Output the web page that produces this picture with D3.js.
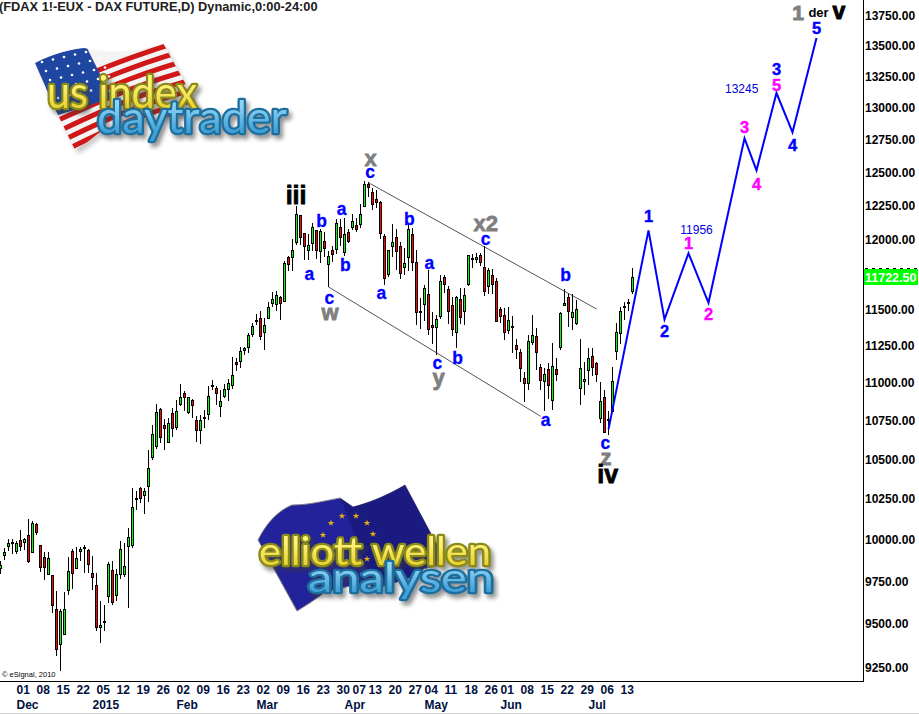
<!DOCTYPE html>
<meta charset="utf-8">
<style>
html, body { margin: 0; padding: 0; background: #fff; overflow: hidden; }
svg { display: block; font-family: "Liberation Sans", Arial, sans-serif; }
.axis path, .axis line { display: none; }
.axis text { font-size: 12px; font-weight: bold; fill: #000; font-family: "Liberation Sans", Arial, sans-serif; }
.axis--x text { fill: #001040; }
.wick { stroke: #000; stroke-width: 1; shape-rendering: crispEdges; }
.body { stroke: #000; stroke-width: 1; shape-rendering: crispEdges; }
.lab { text-anchor: middle; dominant-baseline: central; font-weight: bold; }
.word { filter: drop-shadow(3px 4px 2px rgba(60,60,60,.55)); paint-order: stroke; stroke-linejoin: round; font-family: Lato, "Noto Sans", sans-serif; }
</style>
<svg width="919" height="714"></svg>
<script src="https://d3js.org/d3.v7.min.js"></script>
<script>

var opens = [9825,9903,9957,9972,9927,9990,9982,10026,9923,10092,
  9965,9893,9788,9784,9583,9378,9439,9692,9929,9825,
  9929,9947,9931,9796,9724,9478,9507,9656,9815,9662,
  9788,9788,9959,9964,10243,10313,10273,10326,10508,10583,
  10821,10718,10607,10795,10701,10857,10926,10799,10881,10750,
  10684,10761,10789,10972,10961,10838,10904,10954,10981,11138,
  11145,11218,11238,11329,11415,11436,11343,11438,11540,11534,
  11582,11554,11867,11870,11979,12177,12046,11921,11969,12068,
  11913,11988,11819,11923,11930,12090,11906,12053,12087,12104,
  12111,12240,12411,12350,12296,12273,12024,11747,11952,12017,
  11945,11797,11872,12039,11836,11479,11538,11604,11390,11377,
  11452,11727,11640,11527,11343,11568,11486,11674,11858,11853,
  11887,11800,11660,11742,11698,11499,11459,11354,11374,11254,
  11206,11029,10993,11272,11315,11104,11008,11090,10883,11090,
  11234,11527,11587,11445,11404,10961,11008,11084,11179,11131,
  10763,10899,10753,10806,11211,11336,11511,11540,11623];

var highs = [9867,9947,9998,10002,9988,10052,10008,10123,10112,10098,
  9965,9921,9921,9784,9690,9583,9684,9889,9937,9951,
  9951,9964,9937,9895,9796,9630,9607,9863,9869,9817,
  9984,9976,10068,10316,10296,10318,10313,10553,10714,10855,
  10831,10756,10763,10827,10881,10987,10942,10899,10885,10774,
  10784,10816,10976,11017,10972,10950,10984,11022,11168,11165,
  11234,11234,11336,11404,11468,11488,11438,11550,11619,11626,
  11590,11840,11877,11998,12244,12177,12046,12034,12119,12068,
  12070,12053,11913,11950,12143,12148,12153,12070,12182,12155,
  12259,12432,12421,12378,12365,12280,12034,11916,12111,12070,
  11979,11937,12107,12082,11918,11575,11672,11773,11477,11456,
  11742,11737,11660,11587,11594,11650,11648,11887,11889,11901,
  11901,11945,11788,11785,11720,11513,11506,11513,11454,11290,
  11222,11068,11320,11461,11365,11120,11093,11131,11261,11165,
  11479,11642,11606,11604,11563,11295,11138,11227,11233,11138,
  10999,10949,10806,11102,11404,11513,11547,11570,11793];

var lows = [9786,9871,9927,9907,9911,9927,9933,9855,9923,10026,
  9802,9752,9782,9560,9314,9229,9439,9662,9702,9817,
  9867,9792,9792,9692,9456,9388,9456,9615,9603,9628,
  9756,9768,9586,9945,10175,10223,10155,10229,10491,10564,
  10602,10555,10602,10641,10684,10838,10806,10791,10761,10607,
  10594,10699,10748,10944,10845,10770,10897,10871,10952,11072,
  11095,11181,11197,11306,11388,11284,11218,11436,11513,11484,
  11422,11550,11768,11768,11954,11954,11848,11848,11913,11853,
  11824,11872,11655,11834,11889,11945,11877,11969,12066,12051,
  12082,12232,12308,12215,12228,12003,11667,11727,11872,11776,
  11713,11737,11766,11766,11388,11359,11415,11318,11256,11184,
  11427,11611,11393,11309,11233,11393,11388,11660,11788,11829,
  11805,11594,11604,11602,11409,11399,11284,11324,11195,11154,
  10999,10870,10949,11249,11081,10949,10806,10886,10813,11006,
  11218,11518,11374,11354,11386,10845,10911,10983,11040,10999,
  10727,10667,10652,10795,11149,11256,11422,11484,11604];

var closes = [9845,9919,9974,9978,9974,9957,9998,9867,10098,10042,
  9831,9831,9887,9603,9354,9573,9583,9809,9796,9887,
  9937,9951,9849,9770,9478,9492,9511,9851,9622,9786,
  9941,9835,10014,10195,10251,10251,10294,10442,10660,10801,
  10641,10697,10731,10697,10808,10899,10903,10899,10851,10684,
  10750,10769,10906,10981,10924,10873,10954,10995,11050,11122,
  11213,11227,11322,11384,11420,11313,11390,11513,11568,11597,
  11540,11829,11819,11923,12186,12017,11950,11954,12090,11916,
  12056,11935,11879,11892,12119,12017,12039,11986,12133,12073,
  12184,12409,12383,12261,12269,12041,11720,11916,11981,11911,
  11751,11829,12070,11836,11479,11486,11648,11363,11377,11431,
  11698,11679,11484,11359,11582,11445,11597,11887,11865,11872,
  11834,11626,11778,11676,11415,11452,11340,11424,11379,11224,
  11095,10993,11281,11322,11204,11015,11056,10979,11111,11056,
  11472,11540,11486,11479,11499,11097,11018,11165,11104,11054,
  10872,10673,10757,11008,11343,11486,11518,11547,11722.5];

var priceTicks = [13750,13500,13250,13000,12750,12500,12250,12000,11500,11250,11000,10750,10500,10250,10000,9750,9500,9250];
var lastPrice = 11722.5;

var dayTicks = [4,9,14,19,24,29,34,39,44,49,54,59,64,69,74,79,84,88,92,97,102,106,111,116,121,125,130,135,140,145,150,155];
var dayLabels = ["01","08","15","22","05","12","19","26","02","09","16","23","02","09","16","23","30","07","13","20","27","04","11","18","26","01","08","15","22","29","06","13"];
var monthTicks = [4,23,44,64,86,106,125,147];
var monthLabels = ["Dec","2015","Feb","Mar","Apr","May","Jun","Jul"];

// projected count
var pathBars = [152,162,166,172,177,186,189,194,198,204];
var pathPrices = [10688,12063,11427,11896,11543,12758,12511,13113,12804,13559];

// channel lines
var upperBars = [92,149], upperPrices = [12417,11500];
var lowerBars = [82,135], lowerPrices = [11655,10774];

var minorText = ["b","a","a","b","c","c","a","b","a","c","b","c","b","a","c"];
var minorBars = [80.3,77.2,85.3,86.2,82.2,92.4,95.2,102.2,107.2,109.2,114.3,121.3,141.3,136.3,151.2];
var minorPrices = [12131,11744,12223,11810,11577,12496,11612,12143,11829,11126,11165,12003,11740,10749,10599];

var greyText = ["x","w","y","x2","z"];
var greyBars = [92.5,82.4,109.5,121.3,151.4];
var greyPrices = [12601,11476,11031,12114,10507];

var blackText = ["iii","iv"];
var blackBars = [73.9,151.8];
var blackPrices = [12326,10399];

var blueText = ["1","2","3","4","5"];
var blueBars = [162,166,194,198,204];
var bluePrices = [12165,11345,13304,12704,13642];

var pinkText = ["1","2","3","4","5"];
var pinkBars = [172,177,186,189,194];
var pinkPrices = [11969,11468,12842,12411,13181];

var targetText = ["11956","13245"];
var targetBars = [174,185.3];
var targetPrices = [12063,13143];

var svg = d3.select("svg"),
    width = +svg.attr("width"),
    height = +svg.attr("height"),
    plotRight = 863,
    plotBottom = 681;

var x = d3.scaleLinear().domain([0, 100]).range([0.5, 400.5]);
var y = d3.scaleLog().domain([13750, 9250]).range([15, 667.1]);

var defs = svg.append("defs");
defs.append("filter").attr("id", "soft").append("feGaussianBlur").attr("stdDeviation", 2);

var yellowFill = defs.append("linearGradient").attr("id", "yellowFill").attr("x1", 0).attr("y1", 0).attr("x2", 0).attr("y2", 1);
yellowFill.append("stop").attr("offset", "35%").attr("stop-color", "#fff27a");
yellowFill.append("stop").attr("offset", "85%").attr("stop-color", "#e8d030");

var blueFill = defs.append("linearGradient").attr("id", "blueFill").attr("x1", 0).attr("y1", 0).attr("x2", 0).attr("y2", 1);
blueFill.append("stop").attr("offset", "30%").attr("stop-color", "#8fd2f2");
blueFill.append("stop").attr("offset", "80%").attr("stop-color", "#3f9fd6");

// logos go underneath the candles
drawUsLogo();
drawEuLogo();

// axis frame
svg.append("path")
    .attr("d", "M0," + (plotBottom + 0.5) + "H" + (plotRight + 0.5) + "V0")
    .attr("fill", "none")
    .attr("stroke", "#000")
    .attr("shape-rendering", "crispEdges");
svg.append("rect").attr("x", 0).attr("y", 713).attr("width", width).attr("height", 1).attr("fill", "#d4d4d4");

svg.append("g")
    .attr("class", "axis axis--y")
    .attr("transform", "translate(" + (plotRight + 2) + ",0.7)")
    .call(d3.axisRight(y).tickValues(priceTicks).tickSize(0).tickPadding(0).tickFormat(d3.format(".2f")));

var xDays = svg.append("g")
    .attr("class", "axis axis--x")
    .attr("transform", "translate(0,682)")
    .call(d3.axisBottom(x).tickValues(dayTicks).tickSize(0).tickPadding(3)
      .tickFormat(function(d) { return dayLabels[dayTicks.indexOf(d)]; }));
xDays.selectAll("text").attr("text-anchor", "start").attr("dx", -0.5);

var xMonths = svg.append("g")
    .attr("class", "axis axis--x")
    .attr("transform", "translate(0,697)")
    .call(d3.axisBottom(x).tickValues(monthTicks).tickSize(0).tickPadding(3)
      .tickFormat(function(d) { return monthLabels[monthTicks.indexOf(d)]; }));
xMonths.selectAll("text").attr("text-anchor", "start").attr("dx", -0.5);

// last price box
var lastY = Math.round(y(lastPrice));
svg.append("line")
    .attr("x1", plotRight + 2).attr("x2", 917)
    .attr("y1", lastY - 8.5).attr("y2", lastY - 8.5)
    .attr("stroke", "#000").attr("stroke-dasharray", "3,4");
svg.append("rect")
    .attr("x", plotRight + 1).attr("y", lastY - 8)
    .attr("width", 54).attr("height", 16)
    .attr("fill", "#00ff00");
svg.append("text")
    .attr("x", plotRight + 2).attr("y", lastY + 0.5)
    .attr("dominant-baseline", "central")
    .attr("fill", "#fff").attr("font-size", 12.5).attr("font-weight", "bold")
    .text(d3.format(".2f")(lastPrice));

svg.append("text")
    .attr("x", -1).attr("y", 10.5)
    .attr("font-size", 12.8).attr("font-weight", "bold").attr("fill", "#202020")
    .text("(FDAX 1!-EUX - DAX FUTURE,D) Dynamic,0:00-24:00");

svg.append("text")
    .attr("x", 2).attr("y", 677)
    .attr("font-size", 7.5).attr("fill", "#000")
    .text("\u00a9 eSignal, 2010");

// channel
var line = d3.line()
    .x(function(d) { return x(d[0]); })
    .y(function(d) { return y(d[1]); });

svg.selectAll(".channel")
    .data([d3.zip(upperBars, upperPrices), d3.zip(lowerBars, lowerPrices)])
  .enter().append("path")
    .attr("class", "channel")
    .attr("d", line)
    .attr("fill", "none")
    .attr("stroke", "#555")
    .attr("stroke-width", 1);

// candles
var candles = svg.append("g").selectAll("g")
    .data(d3.range(opens.length))
  .enter().append("g");

candles.append("line")
    .attr("class", "wick")
    .attr("x1", function(i) { return x(i); })
    .attr("x2", function(i) { return x(i); })
    .attr("y1", function(i) { return y(highs[i]); })
    .attr("y2", function(i) { return y(lows[i]); });

candles.append("rect")
    .attr("class", "body")
    .attr("x", function(i) { return x(i) - 1; })
    .attr("width", 2)
    .attr("y", function(i) { return Math.round(y(Math.max(opens[i], closes[i]))) + 0.5; })
    .attr("height", function(i) {
      return Math.max(1, Math.round(y(Math.min(opens[i], closes[i]))) - Math.round(y(Math.max(opens[i], closes[i]))));
    })
    .attr("fill", function(i) { return closes[i] >= opens[i] ? "#00ff00" : "#ff0000"; });

// projected wave path
svg.append("path")
    .datum(d3.zip(pathBars, pathPrices))
    .attr("d", line)
    .attr("fill", "none")
    .attr("stroke", "#0000ff")
    .attr("stroke-width", 2);

function labels(texts, bars, prices, size, color, heavy) {
  svg.append("g").selectAll("text")
      .data(texts)
    .enter().append("text")
      .attr("class", "lab")
      .attr("x", function(d, i) { return x(bars[i]); })
      .attr("y", function(d, i) { return y(prices[i]); })
      .attr("font-size", size)
      .attr("fill", color)
      .attr("stroke", color)
      .attr("stroke-width", heavy)
      .text(function(d) { return d; });
}

labels(minorText, minorBars, minorPrices, 17.5, "#0000ff", 0.3);
labels(greyText, greyBars, greyPrices, 22, "#7f7f7f", 0.8);
labels(blackText, blackBars, blackPrices, 25, "#000", 0.8);
labels(blueText, blueBars, bluePrices, 16.5, "#0000ff", 0.4);
labels(pinkText, pinkBars, pinkPrices, 16.5, "#ff00ff", 0.4);

svg.append("g").selectAll("text")
    .data(targetText)
  .enter().append("text")
    .attr("x", function(d, i) { return x(targetBars[i]); })
    .attr("y", function(d, i) { return y(targetPrices[i]); })
    .attr("text-anchor", "middle")
    .attr("dominant-baseline", "central")
    .attr("font-size", 12)
    .attr("fill", "#0000e0")
    .text(function(d) { return d; });

svg.append("text").attr("class", "lab").attr("x", 798).attr("y", 12).attr("font-size", 21).attr("fill", "#7f7f7f").attr("stroke", "#7f7f7f").attr("stroke-width", 1).text("1");
svg.append("text").attr("class", "lab").attr("x", 818.5).attr("y", 12).attr("font-size", 13).attr("fill", "#000").text("der");
svg.append("text").attr("text-anchor", "middle").attr("font-weight", "bold").attr("x", 839).attr("y", 19).attr("font-size", 23).attr("fill", "#000").attr("stroke", "#000").attr("stroke-width", 1).text("v");

// logo word: one text, rim painted behind a gradient fill
function logoWord(g, s, px, py, len, size, rim, fill) {
  g.append("text")
      .attr("class", "word")
      .attr("x", px).attr("y", py)
      .attr("textLength", len)
      .attr("lengthAdjust", "spacingAndGlyphs")
      .attr("font-size", size)
      .attr("fill", fill)
      .attr("stroke", rim)
      .attr("stroke-width", 4.5)
      .text(s);
}

function drawUsLogo() {
  var g = svg.append("g");
  var flag = "M35,63 C55,53 68,50 84,48 C110,54 135,52 163,43 L200,110 C170,118 140,120 115,122 C100,130 90,142 75,150 L58,115 Z";
  var clip = defs.append("clipPath").attr("id", "usflag");
  clip.append("path").attr("d", flag);
  g.append("path").attr("d", flag).attr("transform", "translate(3,4)").attr("fill", "#999").attr("filter", "url(#soft)").attr("opacity", 0.5);
  var f = g.append("g").attr("clip-path", "url(#usflag)");
  f.append("path").attr("d", flag).attr("fill", "#f4f4f4");
  d3.range(12).forEach(function(k) {
    f.append("path")
        .attr("d", "M20," + (100 + k * 12) + " C70," + (85 + k * 11) + " 110," + (60 + k * 10) + " 210," + (33 + k * 10.5))
        .attr("fill", "none")
        .attr("stroke", "#d01818")
        .attr("stroke-width", 5);
  });
  f.append("path").attr("d", "M30,60 L86,46 L112,98 L55,116 Z").attr("fill", "#1f46a0");
  d3.range(5).forEach(function(r) {
    d3.range(6).forEach(function(c) {
      f.append("circle")
          .attr("cx", 42 + c * 11 + r * 4)
          .attr("cy", 62 - c * 2.5 + r * 9)
          .attr("r", 1.3)
          .attr("fill", "#fff");
    });
  });
  logoWord(g, "us index", 47, 108, 150, 44, "#8a8a18", "url(#yellowFill)");
  logoWord(g, "daytrader", 97, 133, 190, 44, "#1d6f9f", "url(#blueFill)");
}

function drawEuLogo() {
  var g = svg.append("g");
  g.append("path")
      .attr("d", "M258,540 C268,520 280,510 292,505 C310,505 328,500 340,498 L353,507 C372,502 390,494 405,485 L437,545 L440,565 L325,592 C315,600 305,606 297,611 Z")
      .attr("fill", "#22229a")
      .attr("stroke", "#888")
      .attr("stroke-width", 1);
  g.append("path")
      .attr("d", "M340,498 C355,530 362,560 372,590 L420,575 L437,545 L405,485 C390,494 372,502 353,507 Z")
      .attr("fill", "#1a1a80");
  var stars = [[331,523],[342,516],[356,516],[367,523],[373,534],[375,547],[367,559],[323,535]];
  g.selectAll(".star").data(stars).enter().append("path")
      .attr("class", "star")
      .attr("transform", function(d) { return "translate(" + d + ")"; })
      .attr("d", d3.symbol().type(d3.symbolStar).size(14))
      .attr("fill", "#e8b010");
  logoWord(g, "elliott wellen", 259, 565, 232, 38, "#8a8a18", "url(#yellowFill)");
  logoWord(g, "analysen", 308, 592, 186, 40, "#1d6f9f", "url(#blueFill)");
}

</script>
